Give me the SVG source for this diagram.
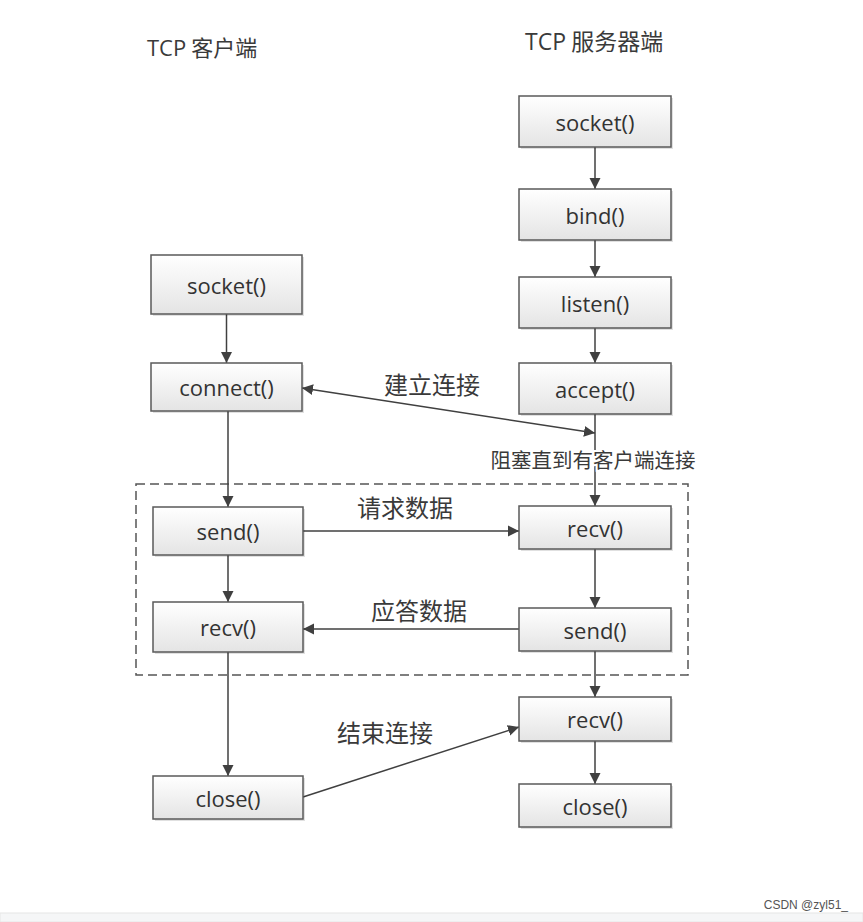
<svg xmlns="http://www.w3.org/2000/svg" width="863" height="922" viewBox="0 0 863 922">
<style>
.box{fill:url(#g);stroke:#5a5a5a;stroke-width:1.5}
.sh{fill:#000;opacity:0.12}
.lbl{font-family:"Open Sans","Noto Sans",sans-serif;font-size:22px;fill:#333;text-anchor:middle;dominant-baseline:central}
.cjk{font-family:"Noto Sans CJK SC","Noto Sans",sans-serif;fill:#3a3a3a}
.con{stroke:#404040;stroke-width:1.5;fill:none}
.arr{marker-end:url(#ah)}
</style>
<defs>
<linearGradient id="g" x1="0" y1="0" x2="0" y2="1">
<stop offset="0" stop-color="#ffffff"/>
<stop offset="1" stop-color="#e4e4e4"/>
</linearGradient>
<marker id="ah" markerUnits="userSpaceOnUse" markerWidth="12" markerHeight="12" refX="11" refY="6" orient="auto-start-reverse">
<path d="M0,0.5 L11,6 L0,11.5 z" fill="#404040"/>
</marker>
</defs>
<rect width="863" height="922" fill="#ffffff"/>
<text x="147" y="56" class="cjk" font-size="22"><tspan font-family="Open Sans, sans-serif">TCP</tspan> 客户端</text>
<text x="525" y="50" class="cjk" font-size="23"><tspan font-family="Open Sans, sans-serif">TCP</tspan> 服务器端</text>
<rect x="136" y="484" width="552" height="191" fill="none" stroke="#555" stroke-width="1.5" stroke-dasharray="9,5"/>
<g id="connectors">
<line class="con arr" x1="595" y1="147" x2="595" y2="189"/>
<line class="con arr" x1="595" y1="240" x2="595" y2="277"/>
<line class="con arr" x1="595" y1="328" x2="595" y2="363"/>
<line class="con arr" x1="595" y1="414" x2="595" y2="506"/>
<line class="con arr" x1="226.5" y1="314" x2="226.5" y2="363"/>
<line class="con arr" x1="228" y1="411" x2="228" y2="507"/>
<line class="con arr" x1="228" y1="555" x2="228" y2="602"/>
<line class="con arr" x1="228" y1="652" x2="228" y2="776"/>
<line class="con arr" x1="595" y1="549" x2="595" y2="608"/>
<line class="con arr" x1="595" y1="651" x2="595" y2="697"/>
<line class="con arr" x1="595" y1="741" x2="595" y2="784"/>
<line class="con arr" x1="303" y1="531" x2="519" y2="531"/>
<line class="con arr" x1="519" y1="629" x2="303" y2="629"/>
<line class="con arr" x1="302" y1="388" x2="595" y2="433" marker-start="url(#ah)"/>
<line class="con arr" x1="303" y1="797" x2="519" y2="727"/>
</g>
<g class="cjk" font-size="24" text-anchor="middle">
<text x="432" y="394">建立连接</text>
<text x="405" y="517">请求数据</text>
<text x="419" y="620">应答数据</text>
<text x="385" y="742">结束连接</text>
</g>
<text x="593" y="468" class="cjk" font-size="20.5" text-anchor="middle" stroke="#ffffff" stroke-width="4" paint-order="stroke">阻塞直到有客户端连接</text>
<g id="c_socket"><rect class="sh" x="153" y="257" width="151" height="59"/><rect class="box" x="151" y="255" width="151" height="59"/><text class="lbl" x="226.5" y="284.5">socket()</text></g>
<g id="c_connect"><rect class="sh" x="153" y="365" width="151" height="48"/><rect class="box" x="151" y="363" width="151" height="48"/><text class="lbl" x="226.5" y="387">connect()</text></g>
<g id="c_send"><rect class="sh" x="155" y="509" width="150" height="48"/><rect class="box" x="153" y="507" width="150" height="48"/><text class="lbl" x="228" y="531">send()</text></g>
<g id="c_recv"><rect class="sh" x="155" y="604" width="150" height="50"/><rect class="box" x="153" y="602" width="150" height="50"/><text class="lbl" x="228" y="627">recv()</text></g>
<g id="c_close"><rect class="sh" x="155" y="778" width="150" height="43"/><rect class="box" x="153" y="776" width="150" height="43"/><text class="lbl" x="228" y="797.5">close()</text></g>
<g id="s_socket"><rect class="sh" x="521" y="98" width="152" height="51"/><rect class="box" x="519" y="96" width="152" height="51"/><text class="lbl" x="595" y="121.5">socket()</text></g>
<g id="s_bind"><rect class="sh" x="521" y="191" width="152" height="51"/><rect class="box" x="519" y="189" width="152" height="51"/><text class="lbl" x="595" y="214.5">bind()</text></g>
<g id="s_listen"><rect class="sh" x="521" y="279" width="152" height="51"/><rect class="box" x="519" y="277" width="152" height="51"/><text class="lbl" x="595" y="302.5">listen()</text></g>
<g id="s_accept"><rect class="sh" x="521" y="365" width="152" height="51"/><rect class="box" x="519" y="363" width="152" height="51"/><text class="lbl" x="595" y="388.5">accept()</text></g>
<g id="s_recv1"><rect class="sh" x="521" y="508" width="152" height="43"/><rect class="box" x="519" y="506" width="152" height="43"/><text class="lbl" x="595" y="527.5">recv()</text></g>
<g id="s_send"><rect class="sh" x="521" y="610" width="152" height="43"/><rect class="box" x="519" y="608" width="152" height="43"/><text class="lbl" x="595" y="629.5">send()</text></g>
<g id="s_recv2"><rect class="sh" x="521" y="699" width="152" height="44"/><rect class="box" x="519" y="697" width="152" height="44"/><text class="lbl" x="595" y="719">recv()</text></g>
<g id="s_close"><rect class="sh" x="521" y="786" width="152" height="43"/><rect class="box" x="519" y="784" width="152" height="43"/><text class="lbl" x="595" y="805.5">close()</text></g>
<rect x="0" y="913" width="863" height="9" fill="#f5f6f7" stroke="#e6e6e6" stroke-width="1"/>
<text x="848" y="909" font-family="Liberation Sans, Arial, sans-serif" font-size="12" fill="#555" text-anchor="end">CSDN @zyl51_</text>
</svg>
